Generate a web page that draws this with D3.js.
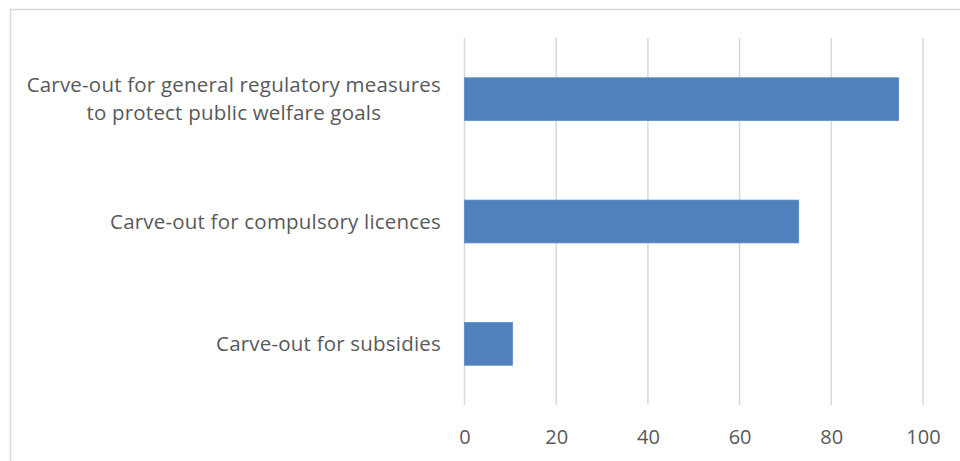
<!DOCTYPE html>
<html>
<head>
<meta charset="utf-8">
<script src="https://cdn.jsdelivr.net/npm/d3@7"></script>
<style>
  html, body { margin: 0; padding: 0; background: #fff; }
  svg { display: block; }
  text { font-family: "Open Sans", "Noto Sans", sans-serif; fill: #595959; }
</style>
</head>
<body>
<svg id="chart" width="960" height="461"></svg>
<script>
// Categories (top to bottom), each as its wrapped lines
const categories = [
  ["Carve-out for general regulatory measures", "to protect public welfare goals"],
  ["Carve-out for compulsory licences"],
  ["Carve-out for subsidies"]
];
const values = [94.7, 72.9, 10.5];
const xTicks = [0, 20, 40, 60, 80, 100];

const svg = d3.select("#chart");
const W = 960, H = 461;
const margin = { left: 464.5, right: 37, top: 38, bottom: 56 };

// Outer chart frame
svg.append("rect")
  .attr("x", 10.5).attr("y", 9.5)
  .attr("width", 970).attr("height", 470)
  .attr("fill", "none").attr("stroke", "#d9d9d9").attr("stroke-width", 1.5);

const x = d3.scaleLinear().domain([0, 100]).range([margin.left, W - margin.right]);
const y = d3.scaleBand()
  .domain(d3.range(categories.length))
  .range([margin.top, H - margin.bottom])
  .paddingInner(0.65).paddingOuter(0.325);

// Vertical gridlines
svg.append("g").selectAll("line").data(xTicks).join("line")
  .attr("x1", d => x(d)).attr("x2", d => x(d))
  .attr("y1", margin.top).attr("y2", H - margin.bottom)
  .attr("stroke", "#d9d9d9").attr("stroke-width", 1.5);

// Bars
svg.append("g").selectAll("rect").data(values).join("rect")
  .attr("x", x(0))
  .attr("y", (d, i) => y(i))
  .attr("width", d => x(d) - x(0))
  .attr("height", y.bandwidth())
  .attr("fill", "#4f81bd")
  .attr("stroke", "#5b8cc6").attr("stroke-width", 0.75);

// Bottom axis labels
const xAxis = d3.axisBottom(x).tickValues(xTicks).tickSize(0).tickPadding(0);
const gx = svg.append("g").attr("transform", `translate(0,${H - margin.bottom})`).call(xAxis);
gx.select(".domain").remove();
gx.selectAll("text")
  .attr("y", 39).attr("dy", null)
  .style("font-size", "20px")
  .attr("fill", "#595959");

// Category labels: each block is right-aligned against the axis,
// and the lines inside a wrapped block are centred on one another
const labelX = 441;
const lineGap = 27.5;
const labels = svg.append("g");
categories.forEach((lines, i) => {
  const cy = y(i) + y.bandwidth() / 2;
  const t = labels.append("text")
    .attr("text-anchor", "middle")
    .style("font-size", "20.5px")
    .style("letter-spacing", "0.2px");
  const y0 = cy - (lines.length - 1) * lineGap / 2 + 7;
  const spans = lines.map((ln, j) =>
    t.append("tspan").attr("y", y0 + j * lineGap).text(ln));
  const widest = d3.max(spans, s => s.node().getComputedTextLength());
  spans.forEach(s => s.attr("x", labelX - widest / 2));
});
</script>
</body>
</html>
